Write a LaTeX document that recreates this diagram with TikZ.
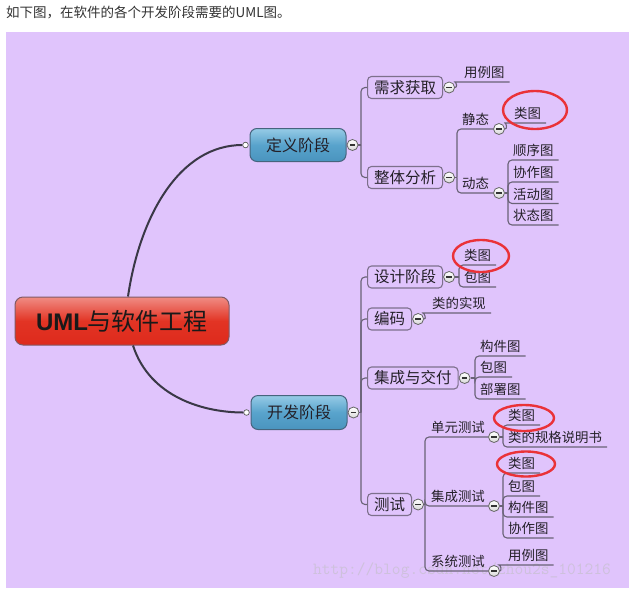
\documentclass[tikz,border=0pt]{standalone}
\usepackage{fontspec}
\setmainfont{Noto Sans CJK SC}
\newfontfamily\umlfont{Liberation Sans}
\usetikzlibrary{shapes.geometric}
\definecolor{bgp}{RGB}{224,196,252}
\definecolor{lnc}{RGB}{105,98,118}
\definecolor{boxb}{RGB}{125,112,140}
\definecolor{txt}{RGB}{36,32,40}
\definecolor{bluet}{RGB}{150,203,230}
\definecolor{bluem}{RGB}{88,163,204}
\definecolor{blueb}{RGB}{74,148,190}
\definecolor{blueline}{RGB}{70,100,125}
\definecolor{redt}{RGB}{240,140,132}
\definecolor{redm}{RGB}{226,52,36}
\definecolor{redb}{RGB}{222,42,28}
\definecolor{redline}{RGB}{130,90,100}
\definecolor{ringc}{RGB}{234,50,56}
\definecolor{wm}{RGB}{206,193,220}
\definecolor{hdr}{RGB}{51,51,51}
\definecolor{curvec}{RGB}{58,56,70}
\begin{document}
\begin{tikzpicture}[x=1pt,y=-1pt,
  rootbox/.style={rectangle, rounded corners=8pt, draw=redline, line width=1pt, top color=redt, bottom color=redb, middle color=redm, minimum width=214pt, minimum height=48pt, inner sep=0pt, text=black!90, font=\fontsize{24}{28}\selectfont},
  phasebox/.style={rectangle, rounded corners=7pt, draw=blueline, line width=1pt, top color=bluet, bottom color=blueb, middle color=bluem, minimum width=96pt, minimum height=33pt, inner sep=0pt, text=txt, font=\fontsize{16}{19}\selectfont, text height=13.4pt, text depth=1.3pt},
  stagebox/.style={rectangle, rounded corners=4pt, draw=boxb, line width=1.1pt, minimum height=22pt, inner xsep=6.5pt, inner ysep=0pt, text=txt, font=\fontsize{15.5}{18}\selectfont, text height=13pt, text depth=1.24pt, anchor=west},
  leaf/.style={inner xsep=5pt, inner ysep=3pt, text=txt, font=\fontsize{13.4}{16}\selectfont, text height=11.3pt, text depth=1.1pt, anchor=south west},
  mbtn/.style={circle, draw=gray!80!black, line width=0.8pt, top color=white, bottom color=gray!30, minimum size=11pt, inner sep=0pt, path picture={\draw[line width=1.2pt, black!80] ([xshift=-2.7pt]path picture bounding box.center) -- ([xshift=2.7pt]path picture bounding box.center);}},
  dotc/.style={circle, draw=gray!70!black, fill=white, minimum size=5.6pt, inner sep=0pt, line width=0.7pt},
  conn/.style={draw=lnc, line width=1.1pt, rounded corners=4pt},
  maincurve/.style={draw=curvec, line width=2pt},
  ringbox/.style={ellipse, draw=ringc, line width=2.4pt, inner sep=0pt}
]
\useasboundingbox (0,0) rectangle (629,592);
\fill[white] (0,0) rectangle (629,592);
\fill[bgp] (6,32) rectangle (629,588);
\node[anchor=west, inner sep=0pt, text=hdr, font=\fontsize{13.5}{16}\selectfont] (hdr) at (6,12.5) {如下图，在软件的各个开发阶段需要的UML图。};
\node[anchor=west, inner sep=0pt, text=wm, font=\ttfamily\fontsize{17}{20}\selectfont] (wmk) at (313,571) {http://blog.csdn.net/zhou2s\_101216};

% root and phases
\node[rootbox] (root) at (122,321) {{\umlfont\bfseries UML}与软件工程};
\node[phasebox] (def) at (298,145) {定义阶段};
\node[phasebox, minimum height=34pt] (dev) at (299,412.5) {开发阶段};
\node[dotc] (defL) at ([xshift=-4pt]def.west) {};
\node[dotc] (devL) at ([xshift=-4pt]dev.west) {};
\node[mbtn] (defM) at ([xshift=6pt]def.east) {};
\node[mbtn] (devM) at ([xshift=6pt]dev.east) {};
\draw[maincurve] ([xshift=6pt]root.north) .. controls (140,215) and (180,145) .. (defL.west);
\draw[maincurve] ([xshift=11pt]root.south) .. controls (150,398) and (205,412.5) .. (devL.west);

% stage boxes
\node[stagebox] (req) at (367,87.5) {需求获取};
\node[stagebox] (ana) at (367,177.5) {整体分析};
\node[stagebox] (des) at (367,277) {设计阶段};
\node[stagebox] (cod) at (367,319) {编码};
\node[stagebox] (int) at (367,378) {集成与交付};
\node[stagebox] (tst) at (367,504.5) {测试};
\foreach \n in {req,ana,des,cod,int,tst} {\node[mbtn] (\n M) at ([xshift=6pt]\n.east) {};}

\coordinate (dj) at (361,145);
\draw[conn] (defM.east) -- (dj);
\draw[conn] (dj) |- (req.west);
\draw[conn] (dj) |- (ana.west);
\coordinate (vj) at (361,412.5);
\draw[conn] (devM.east) -- (vj);
\foreach \n in {des,cod,int,tst} {\draw[conn] (vj) |- (\n.west);}

% 需求获取
\node[leaf] (l1) at (459,82) {用例图};
\draw[conn] (reqM.east) .. controls +(3,0) and +(-3,0) .. (l1.south west) -- (l1.south east);

% 整体分析
\coordinate (aj) at (457,177.5);
\node[mbtn] (staM) at (499,129) {};
\node[mbtn] (dynM) at (499,193) {};
\node[leaf] (sta) at (457,129) {静态};
\node[leaf] (dyn) at (457,193) {动态};
\draw[conn] (anaM.east) -- (aj);
\draw[conn] (aj) |- (staM.west);
\draw[conn] (aj) |- (dynM.west);
\node[leaf] (l2) at (509,123) {类图};
\draw[conn] (staM.east) .. controls +(3,0) and +(-3,0) .. (l2.south west) -- (l2.south east);
\coordinate (yj) at (508,193);
\node[leaf] (l3) at (508,160) {顺序图};
\node[leaf] (l4) at (508,182) {协作图};
\node[leaf] (l5) at (508,203.5) {活动图};
\node[leaf] (l6) at (508,225) {状态图};
\draw[conn] (dynM.east) -- (yj);
\foreach \n in {l3,l4,l5,l6} {\draw[conn] (yj) |- (\n.south east);}

% 设计阶段
\coordinate (sj) at (459,277);
\node[leaf] (l7) at (459,265) {类图};
\node[leaf] (l8) at (459,287) {包图};
\draw[conn] (desM.east) -- (sj);
\draw[conn] (sj) |- (l7.south east);
\draw[conn] (sj) |- (l8.south east);

% 编码
\node[leaf] (l9) at (427,313) {类的实现};
\draw[conn] (codM.east) .. controls +(3,0) and +(-3,0) .. (l9.south west) -- (l9.south east);

% 集成与交付
\coordinate (ij) at (475,378);
\node[leaf] (l10) at (475,356) {构件图};
\node[leaf] (l11) at (475,377) {包图};
\node[leaf] (l12) at (475,399) {部署图};
\draw[conn] (intM.east) -- (ij);
\foreach \n in {l10,l11,l12} {\draw[conn] (ij) |- (\n.south east);}

% 测试
\coordinate (tj) at (425,504.5);
\node[mbtn] (unitM) at (494,437) {};
\node[mbtn] (itgM) at (494,506) {};
\node[mbtn] (sysM) at (494,571) {};
\node[leaf] (unit) at (426,437) {单元测试};
\node[leaf] (itg) at (426,506) {集成测试};
\node[leaf] (sys) at (426,571) {系统测试};
\draw[conn] (tstM.east) -- (tj);
\draw[conn] (tj) |- (unitM.west);
\draw[conn] (tj) |- (itgM.west);
\draw[conn] (tj) |- (sysM.west);

\coordinate (uj) at (503,437);
\node[leaf] (l13) at (503,425) {类图};
\node[leaf] (l14) at (503,447) {类的规格说明书};
\draw[conn] (unitM.east) -- (uj);
\draw[conn] (uj) |- (l13.south east);
\draw[conn] (uj) |- (l14.south east);

\coordinate (gj) at (503,506);
\node[leaf] (l15) at (503,473) {类图};
\node[leaf] (l16) at (503,496) {包图};
\node[leaf] (l17) at (503,517) {构件图};
\node[leaf] (l18) at (503,538) {协作图};
\draw[conn] (itgM.east) -- (gj);
\foreach \n in {l15,l16,l17,l18} {\draw[conn] (gj) |- (\n.south east);}

\node[leaf] (l19) at (503,565) {用例图};
\draw[conn] (sysM.east) .. controls +(2,0) and +(-2,0) .. (l19.south west) -- (l19.south east);

% red marks
\node[ringbox, minimum width=64pt, minimum height=38pt] (e1) at (535,110) {};
\node[ringbox, minimum width=56pt, minimum height=32pt] (e2) at (481,256) {};
\node[ringbox, minimum width=60pt, minimum height=26pt] (e3) at (524,418) {};
\node[ringbox, minimum width=58pt, minimum height=25pt] (e4) at (526,464) {};
\end{tikzpicture}
\end{document}
